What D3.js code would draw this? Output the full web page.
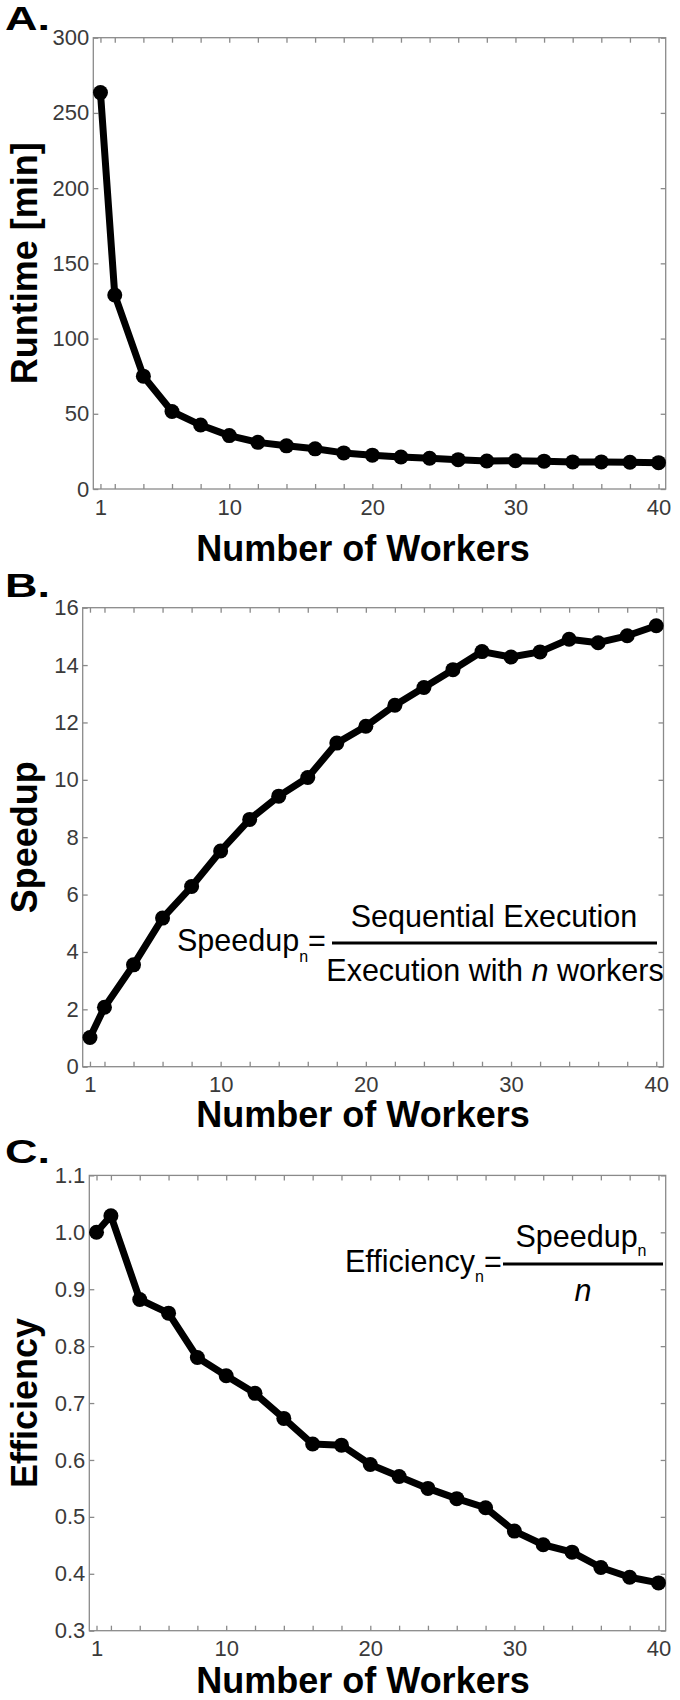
<!DOCTYPE html>
<html>
<head>
<meta charset="utf-8">
<script src="https://cdn.jsdelivr.net/npm/d3@7"></script>
<style>
  body { margin: 0; background: #fff; }
  svg { font-family: "Liberation Sans", Arial, sans-serif; }
</style>
</head>
<body>
<div id="chart"></div>
<script>
// Number of workers (x values, shared by all three panels)
const workers = [1, 2, 4, 6, 8, 10, 12, 14, 16, 18, 20, 22, 24, 26, 28, 30, 32, 34, 36, 38, 40];

// Series
const runtime = [263.5, 129, 75, 51.5, 42.5, 35.5, 31, 28.7, 26.7, 24, 22.5, 21.3, 20.4, 19.5, 18.6, 18.8, 18.5, 18.0, 18.0, 17.8, 17.5];
const speedup = [1.02, 2.07, 3.55, 5.18, 6.28, 7.52, 8.62, 9.43, 10.08, 11.28, 11.87, 12.6, 13.22, 13.84, 14.47, 14.28, 14.46, 14.9, 14.78, 15.02, 15.37];
const efficiency = [1.0, 1.029, 0.882, 0.858, 0.78, 0.748, 0.717, 0.673, 0.628, 0.626, 0.592, 0.571, 0.55, 0.532, 0.516, 0.475, 0.451, 0.438, 0.411, 0.394, 0.384];

// Tick values
const xTickLabels = [1, 10, 20, 30, 40];
const runtimeTicks = [0, 50, 100, 150, 200, 250, 300];
const speedupTicks = [0, 2, 4, 6, 8, 10, 12, 14, 16];
const efficiencyTicks = [0.3, 0.4, 0.5, 0.6, 0.7, 0.8, 0.9, 1.0, 1.1];

const width = 680, height = 1700;
const frameColor = "#8a8a8a";
const tickTextColor = "#3a3a3a";

const svg = d3.select("#chart").append("svg")
    .attr("width", width)
    .attr("height", height);

function drawPanel(p) {
    const x = d3.scaleLinear().domain([0.5, 40.5]).range([p.left, p.right]);
    const y = d3.scaleLinear().domain(p.yDomain).range([p.bottom, p.top]);

    const g = svg.append("g");

    // frame
    g.append("rect")
        .attr("x", p.left)
        .attr("y", p.top)
        .attr("width", p.right - p.left)
        .attr("height", p.bottom - p.top)
        .attr("fill", "none")
        .attr("stroke", frameColor)
        .attr("stroke-width", 1.3);

    // axes, ticks point inward
    const bottomAxis = g.append("g")
        .attr("transform", `translate(0,${p.bottom})`)
        .call(d3.axisBottom(x).tickValues(workers).tickSize(-5).tickPadding(10)
            .tickFormat(d => xTickLabels.includes(d) ? d : ""));
    const topAxis = g.append("g")
        .attr("transform", `translate(0,${p.top})`)
        .call(d3.axisTop(x).tickValues(workers).tickSize(-5).tickFormat(""));
    const leftAxis = g.append("g")
        .attr("transform", `translate(${p.left},0)`)
        .call(d3.axisLeft(y).tickValues(p.yTicks).tickSize(-5).tickPadding(4)
            .tickFormat(p.yFormat));
    const rightAxis = g.append("g")
        .attr("transform", `translate(${p.right},0)`)
        .call(d3.axisRight(y).tickValues(p.yTicks).tickSize(-5).tickFormat(""));

    [bottomAxis, topAxis, leftAxis, rightAxis].forEach(a => {
        a.select(".domain").remove();
        a.selectAll(".tick line").attr("stroke", frameColor).attr("stroke-width", 1.3);
        a.selectAll(".tick text")
            .attr("fill", tickTextColor)
            .style("font-size", "22px")
            .style("font-family", "'Liberation Sans', Arial, sans-serif");
    });

    // line + dots
    const pts = workers.map((w, i) => ({ w: w, v: p.values[i] }));
    const line = d3.line().x(d => x(d.w)).y(d => y(d.v));

    g.append("path")
        .datum(pts)
        .attr("d", line)
        .attr("fill", "none")
        .attr("stroke", "#000")
        .attr("stroke-width", 7)
        .attr("stroke-linejoin", "round");

    g.selectAll("circle")
        .data(pts)
        .enter()
        .append("circle")
        .attr("cx", d => x(d.w))
        .attr("cy", d => y(d.v))
        .attr("r", 7.5)
        .attr("fill", "#000");

    // panel letter
    g.append("text")
        .attr("x", 5)
        .attr("y", p.letterY)
        .style("font-size", "33px")
        .style("font-weight", "900")
        .attr("textLength", 45)
        .attr("lengthAdjust", "spacingAndGlyphs")
        .text(p.letter);

    // y-axis title
    g.append("text")
        .attr("transform", `translate(37,${(p.top + p.bottom) / 2}) rotate(-90)`)
        .attr("text-anchor", "middle")
        .style("font-size", "36px")
        .style("font-weight", "bold")
        .text(p.yTitle);

    // x-axis title
    g.append("text")
        .attr("x", 363)
        .attr("y", p.xTitleY)
        .attr("text-anchor", "middle")
        .style("font-size", "36px")
        .style("font-weight", "bold")
        .text("Number of Workers");

    return g;
}

drawPanel({
    letter: "A.", letterY: 30,
    left: 93.3, right: 665.7, top: 37.7, bottom: 489,
    yDomain: [0, 300], yTicks: runtimeTicks, yFormat: d3.format("d"),
    values: runtime, yTitle: "Runtime [min]", xTitleY: 561
});

const gB = drawPanel({
    letter: "B.", letterY: 597,
    left: 82.7, right: 663.5, top: 607.7, bottom: 1066.7,
    yDomain: [0, 16], yTicks: speedupTicks, yFormat: d3.format("d"),
    values: speedup, yTitle: "Speedup", xTitleY: 1127
});

const gC = drawPanel({
    letter: "C.", letterY: 1163,
    left: 89.3, right: 665.7, top: 1175.4, bottom: 1630.7,
    yDomain: [0.3, 1.1], yTicks: efficiencyTicks, yFormat: d3.format(".1f"),
    values: efficiency, yTitle: "Efficiency", xTitleY: 1693
});

// Speedup formula
const fs = "30.5px";
const fB = gB.append("text").attr("x", 177).attr("y", 951).style("font-size", fs);
fB.append("tspan").text("Speedup");
fB.append("tspan").attr("dy", 11).style("font-size", "16px").text("n");
fB.append("tspan").attr("dy", -11).text("=");
gB.append("line").attr("x1", 332).attr("x2", 657).attr("y1", 943).attr("y2", 943)
    .attr("stroke", "#000").attr("stroke-width", 3);
gB.append("text").attr("x", 494).attr("y", 927).attr("text-anchor", "middle")
    .style("font-size", fs).text("Sequential Execution");
const denB = gB.append("text").attr("x", 495).attr("y", 981).attr("text-anchor", "middle")
    .style("font-size", fs);
denB.append("tspan").text("Execution with ");
denB.append("tspan").style("font-style", "italic").text("n");
denB.append("tspan").text(" workers");

// Efficiency formula
const fC = gC.append("text").attr("x", 345).attr("y", 1272).style("font-size", fs);
fC.append("tspan").text("Efficiency");
fC.append("tspan").attr("dy", 10).style("font-size", "16px").text("n");
fC.append("tspan").attr("dy", -10).text("=");
gC.append("line").attr("x1", 503).attr("x2", 663).attr("y1", 1264).attr("y2", 1264)
    .attr("stroke", "#000").attr("stroke-width", 3);
const numC = gC.append("text").attr("x", 581).attr("y", 1247).attr("text-anchor", "middle")
    .style("font-size", fs);
numC.append("tspan").text("Speedup");
numC.append("tspan").attr("dy", 9).style("font-size", "16px").text("n");
gC.append("text").attr("x", 583).attr("y", 1301).attr("text-anchor", "middle")
    .style("font-size", fs).style("font-style", "italic").text("n");
</script>
</body>
</html>
